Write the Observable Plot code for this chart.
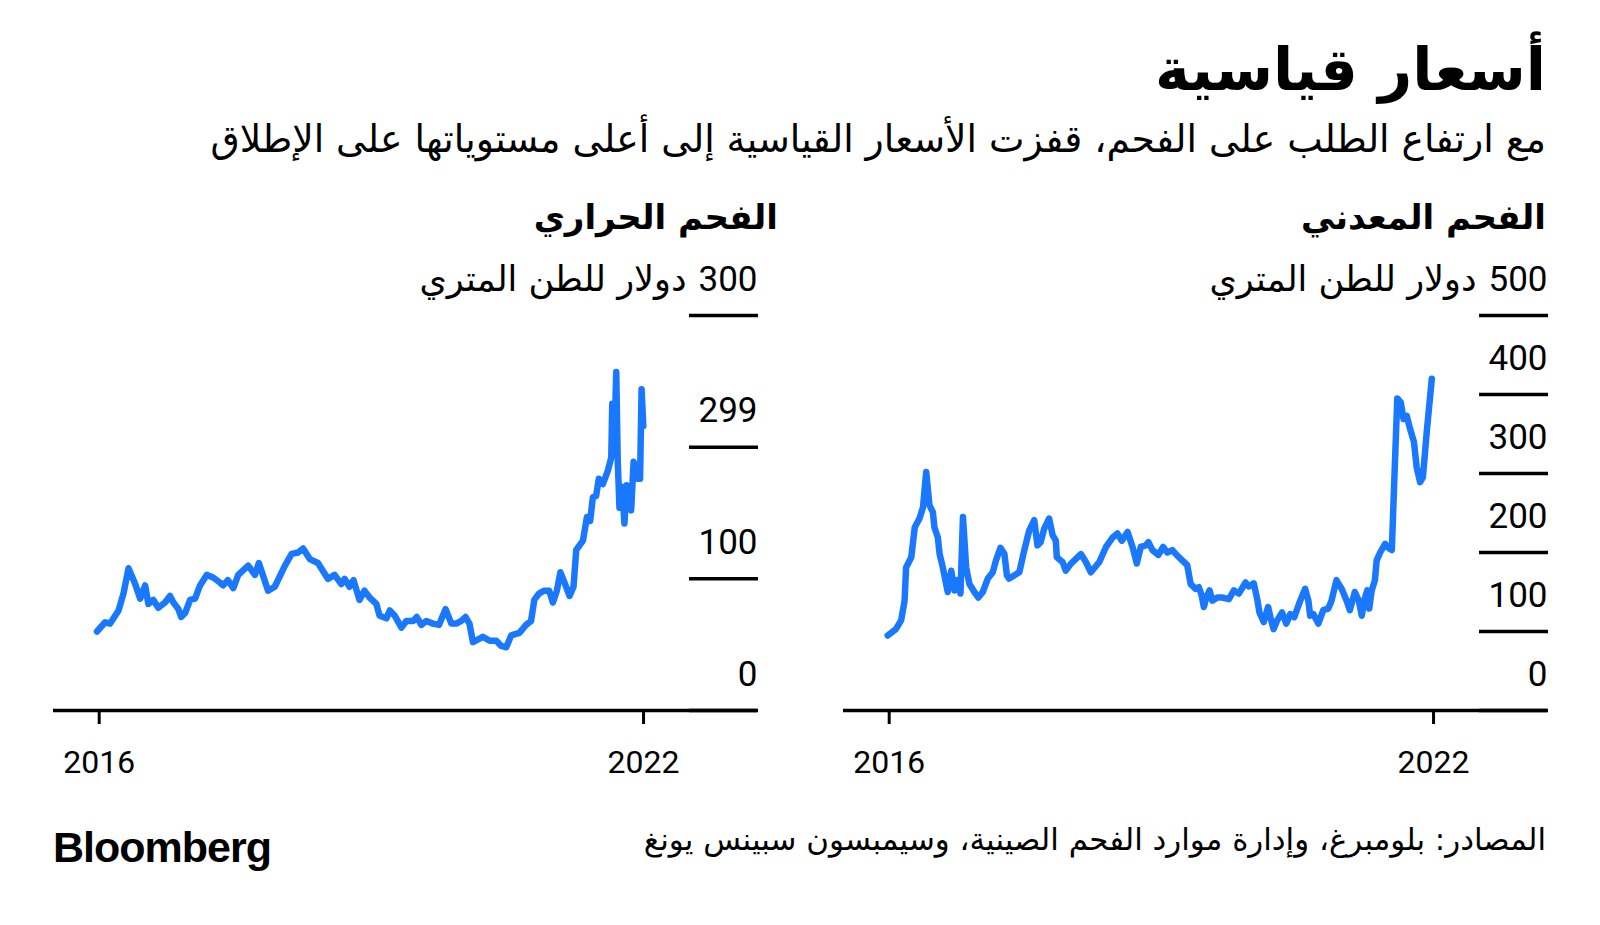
<!DOCTYPE html>
<html><head><meta charset="utf-8">
<script src="https://cdn.jsdelivr.net/npm/d3@7"></script>
<script src="https://cdn.jsdelivr.net/npm/@observablehq/plot@0.6"></script>
<style>
body{margin:0;background:#fff;}
#page{position:relative;width:1600px;height:925px;overflow:hidden;background:#fff;font-family:"DejaVu Sans",sans-serif;color:#000;}
.t{position:absolute;white-space:nowrap;direction:rtl;text-align:right;line-height:1;}
#title{right:54px;top:40px;font-size:59px;font-weight:bold;}
#subtitle{right:54px;top:121px;font-size:37.7px;}
.ptitle{top:200px;font-size:34px;font-weight:bold;}
#ptL{right:822px;} #ptR{right:54px;}
#logo{position:absolute;left:53px;top:826px;font-family:"Liberation Sans",sans-serif;font-weight:bold;font-size:43px;letter-spacing:-1px;line-height:1;}
#source{right:54px;top:824px;font-size:30.9px;}
.panel{position:absolute;top:250px;}
#pL{left:40px;} #pR{left:830px;}
</style>
</head><body>
<div id="page">
  <div class="t" id="title"></div>
  <div class="t" id="subtitle"></div>
  <div class="t ptitle" id="ptL"></div>
  <div class="t ptitle" id="ptR"></div>
  <div class="panel" id="pL"></div>
  <div class="panel" id="pR"></div>
  <div id="logo"></div>
  <div class="t" id="source"></div>
</div>
<script>
// ---- Texts ----
const titleText = "أسعار قياسية";
const subtitleText = "مع ارتفاع الطلب على الفحم، قفزت الأسعار القياسية إلى أعلى مستوياتها على الإطلاق";
const thermalTitle = "الفحم الحراري";
const cokingTitle = "الفحم المعدني";
const unitText = "دولار للطن المتري";
const sourceText = "المصادر: بلومبرغ، وإدارة موارد الفحم الصينية، وسيمبسون سبينس يونغ";
const logoText = "Bloomberg";

// ---- X ticks ----
const xTicks = ["2016-01-01", "2022-01-01"];
const xTickLabels = ["2016", "2022"];

// ---- Thermal coal (left) ----
const thermalTicks = [0, 100, 200, 300];
const thermalTickLabels = ["0", "100", "299", "300"];
const thermalDates = ["2015-12-23","2016-01-25","2016-02-14","2016-03-19","2016-04-08","2016-04-28","2016-05-25","2016-06-14","2016-07-04","2016-07-17","2016-08-06","2016-08-26","2016-09-22","2016-10-12","2016-10-26","2016-11-15","2016-11-26","2016-12-12","2017-01-01","2017-01-21","2017-02-10","2017-03-09","2017-04-04","2017-05-02","2017-05-14","2017-06-02","2017-06-24","2017-07-14","2017-08-23","2017-09-19","2017-10-05","2017-11-11","2017-12-08","2018-01-18","2018-02-14","2018-03-12","2018-04-01","2018-04-28","2018-05-31","2018-06-20","2018-07-10","2018-08-06","2018-09-02","2018-09-15","2018-10-05","2018-10-21","2018-11-14","2018-12-04","2018-12-24","2019-01-21","2019-02-03","2019-03-03","2019-03-16","2019-04-05","2019-05-02","2019-05-22","2019-06-18","2019-07-03","2019-07-21","2019-08-10","2019-09-06","2019-09-30","2019-10-27","2019-11-19","2019-12-09","2019-12-29","2020-01-15","2020-01-31","2020-02-14","2020-03-25","2020-04-21","2020-05-18","2020-06-07","2020-06-27","2020-07-17","2020-08-19","2020-09-15","2020-10-05","2020-10-18","2020-11-07","2020-11-27","2020-12-17","2021-01-01","2021-01-17","2021-01-31","2021-02-17","2021-03-09","2021-03-25","2021-04-05","2021-05-02","2021-05-18","2021-05-31","2021-06-11","2021-06-24","2021-07-05","2021-07-21","2021-08-10","2021-08-24","2021-08-28","2021-09-06","2021-09-13","2021-09-19","2021-09-26","2021-10-07","2021-10-16","2021-10-25","2021-11-12","2021-11-22","2021-12-08","2021-12-18","2021-12-24","2021-12-31"];
const thermalValues = [60,67,66,76,89,108,96,85,95,81,84,78,82,87,82,77,71,74,84,85,95,103,101,97,95,99,93,103,110,103,112,91,94,110,119,120,123,115,112,106,100,103,96,100,94,99,84,91,86,81,72,70,76,72,63,68,68,71,65,68,66,65,77,66,66,68,71,66,52,56,53,53,49,48,57,59,65,68,84,89,91,91,82,91,105,97,87,94,122,129,147,144,162,163,176,172,182,192,233,205,257,190,154,170,142,171,152,189,176,176,244,216];

// ---- Coking coal (right) ----
const cokingTicks = [0, 100, 200, 300, 400, 500];
const cokingTickLabels = ["0", "100", "200", "300", "400", "500"];
const cokingDates = ["2015-12-26","2016-01-28","2016-02-18","2016-03-03","2016-03-09","2016-03-30","2016-04-13","2016-05-02","2016-05-16","2016-05-29","2016-06-11","2016-06-25","2016-07-01","2016-07-15","2016-07-22","2016-08-04","2016-08-24","2016-09-07","2016-09-20","2016-10-03","2016-10-14","2016-10-24","2016-11-06","2016-11-19","2016-12-09","2016-12-25","2017-01-12","2017-02-01","2017-02-21","2017-03-06","2017-03-24","2017-04-09","2017-04-19","2017-04-28","2017-05-18","2017-06-08","2017-06-28","2017-07-18","2017-08-07","2017-08-20","2017-09-02","2017-09-16","2017-10-06","2017-10-20","2017-11-02","2017-11-06","2017-11-29","2017-12-12","2018-01-02","2018-02-11","2018-03-03","2018-03-23","2018-04-26","2018-05-23","2018-06-19","2018-07-08","2018-07-26","2018-08-18","2018-09-07","2018-09-24","2018-10-10","2018-10-30","2018-11-10","2018-11-26","2018-12-20","2019-01-08","2019-01-25","2019-02-14","2019-03-06","2019-03-26","2019-04-15","2019-04-29","2019-05-19","2019-06-01","2019-06-12","2019-06-21","2019-07-01","2019-07-14","2019-07-25","2019-08-14","2019-09-03","2019-09-30","2019-10-20","2019-11-09","2019-12-06","2019-12-19","2020-01-08","2020-01-22","2020-01-31","2020-02-17","2020-03-06","2020-03-15","2020-03-28","2020-04-11","2020-05-01","2020-05-18","2020-06-03","2020-06-19","2020-07-13","2020-08-02","2020-08-15","2020-08-22","2020-09-04","2020-09-24","2020-10-14","2020-11-03","2020-11-16","2020-12-06","2020-12-27","2021-01-16","2021-01-29","2021-02-18","2021-03-06","2021-03-18","2021-03-28","2021-04-09","2021-04-17","2021-04-27","2021-05-10","2021-05-17","2021-05-31","2021-06-20","2021-07-07","2021-07-17","2021-07-26","2021-08-08","2021-08-22","2021-09-02","2021-09-15","2021-09-28","2021-10-14","2021-10-25","2021-11-08","2021-11-19","2021-12-05","2021-12-25"];
const cokingValues = [95,103,114,139,181,194,232,243,257,302,260,251,232,219,198,181,150,177,152,165,148,245,181,160,150,143,150,167,175,190,206,198,171,167,171,175,203,228,241,209,213,230,243,222,215,194,188,177,186,198,188,175,188,207,219,224,215,226,207,186,207,209,213,203,197,207,200,203,196,190,184,160,154,156,146,131,143,152,139,143,143,141,152,148,162,157,161,141,124,112,131,118,103,114,124,110,122,118,139,154,139,120,122,110,127,129,139,165,154,139,127,150,139,120,139,152,129,152,165,190,200,211,205,203,283,395,390,369,373,357,340,308,289,295,354,420];

document.getElementById("title").textContent = titleText;
document.getElementById("subtitle").textContent = subtitleText;
document.getElementById("ptL").textContent = thermalTitle;
document.getElementById("ptR").textContent = cokingTitle;
document.getElementById("source").textContent = sourceText;
document.getElementById("logo").textContent = logoText;

const xTickMap = new Map(xTicks.map((d, i) => [+new Date(d), xTickLabels[i]]));
const numFont = "Roboto, 'DejaVu Sans', sans-serif";

function panel(dates, values, yTicks, yLabels, yMax) {
  const data = dates.map((d, i) => ({date: new Date(d), value: values[i]}));
  const labels = yTicks.map((d, i) => ({v: d, label: yLabels[i]}));
  const top = yTicks[yTicks.length - 1];
  return Plot.plot({
    width: 740, height: 540,
    marginLeft: 13, marginRight: 92, marginTop: 65, marginBottom: 80,
    style: {fontFamily: numFont, fontSize: "32px", color: "#000", background: "transparent", overflow: "visible"},
    x: {type: "utc", domain: [new Date("2015-07-01"), new Date("2022-07-01")]},
    y: {domain: [0, yMax]},
    marks: [
      Plot.axisX(xTicks.map(d => new Date(d)), {tickSize: 14, tickPadding: 26, strokeWidth: 3, tickFormat: d => xTickMap.get(+d), fontSize: 32, label: null}),
      Plot.axisY(yTicks, {anchor: "right", tickSize: 69, tickPadding: 0, strokeWidth: 3.5, tickFormat: () => "", label: null}),
      Plot.text(labels, {y: "v", text: "label", frameAnchor: "right", dx: 69, dy: -36, textAnchor: "end", fontSize: 35, fill: "#000"}),
      Plot.text([top], {y: d => d, text: () => unitText, frameAnchor: "right", dx: -2, dy: -36, textAnchor: "end", fontSize: 35, fontFamily: "'DejaVu Sans', sans-serif", fill: "#000"}),
      Plot.ruleY([0], {stroke: "#000", strokeWidth: 3.5, insetRight: -69}),
      Plot.line(data, {x: "date", y: "value", stroke: "#1a78ff", strokeWidth: 6.5, strokeLinejoin: "round", strokeLinecap: "round"})
    ]
  });
}

document.getElementById("pL").appendChild(panel(thermalDates, thermalValues, thermalTicks, thermalTickLabels, 300));
document.getElementById("pR").appendChild(panel(cokingDates, cokingValues, cokingTicks, cokingTickLabels, 500));
</script>
</body></html>
